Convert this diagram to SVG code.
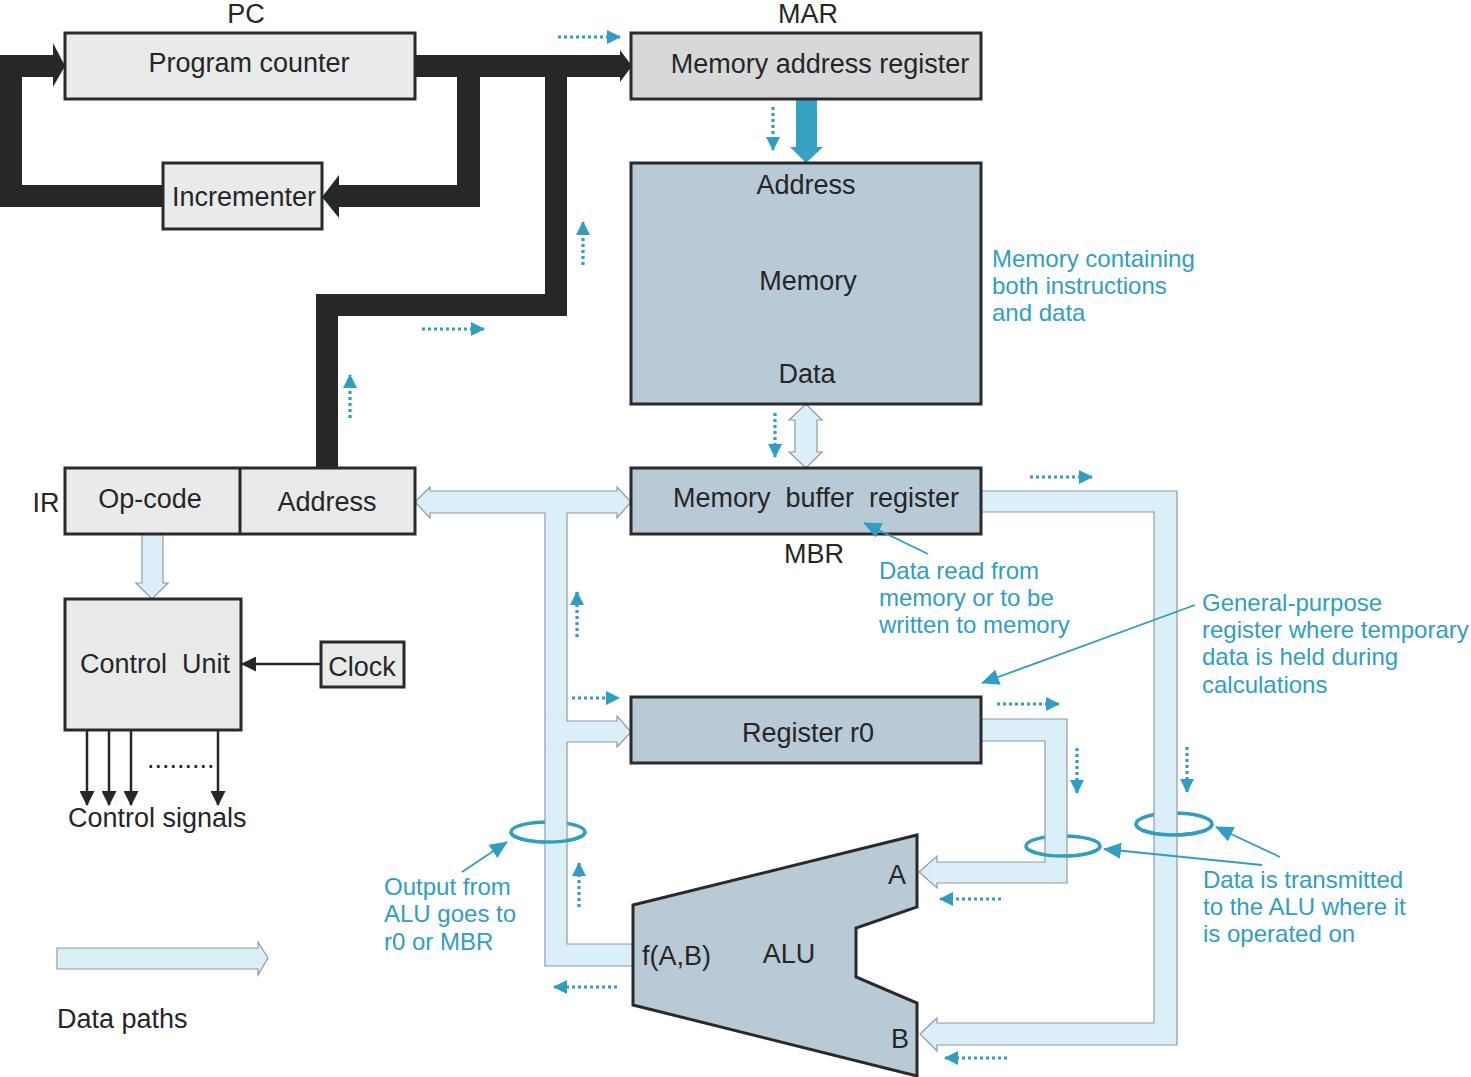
<svg xmlns="http://www.w3.org/2000/svg" width="1471" height="1077" viewBox="0 0 1471 1077">
<defs>
<style>
text{font-family:"Liberation Sans",Arial,sans-serif;}
.lbl{font-size:27px;fill:#262626;}
.c{text-anchor:middle;}
.note{font-size:24px;fill:#2f9ec4;}
.box{stroke:#2a2a2a;stroke-width:3;}
.lt{fill:#e9ebea;}
.mar{fill:#d7d9d9;}
.bg{fill:#b8cad6;}
.bus{fill:#262729;}
.path{fill:#dbeff9;stroke:#8e9aa2;stroke-width:1.2;stroke-linejoin:miter;}
.dot{stroke:#2f9ec4;stroke-width:3.2;stroke-dasharray:3 3;fill:none;marker-end:url(#dtip);}
.ann{stroke:#2f9ec4;stroke-width:1.8;fill:none;marker-end:url(#atip);}
.ring{stroke:#2f9ec4;stroke-width:3.5;fill:none;}
.sig{stroke:#262626;stroke-width:2.5;fill:none;marker-end:url(#btip);}
</style>
<marker id="dtip" markerUnits="userSpaceOnUse" markerWidth="14" markerHeight="14" refX="13" refY="7" orient="auto"><path d="M0,0 L14,7 L0,14 Z" fill="#2f9ec4"/></marker>
<marker id="atip" markerUnits="userSpaceOnUse" markerWidth="18" markerHeight="16" refX="17" refY="8" orient="auto"><path d="M0,0 L18,8 L0,16 Z" fill="#2f9ec4"/></marker>
<marker id="btip" markerUnits="userSpaceOnUse" markerWidth="15" markerHeight="15" refX="14" refY="7.5" orient="auto"><path d="M0,0 L15,7.5 L0,15 Z" fill="#262626"/></marker>
</defs>
<rect width="1471" height="1077" fill="#ffffff"/>

<g id="connectors">
  <g id="black-bus">
    <rect class="bus" x="0" y="185" width="163" height="22"/>
    <rect class="bus" x="0" y="55" width="22" height="152"/>
    <rect class="bus" x="0" y="55" width="54" height="22"/>
    <polygon class="bus" points="53,43 65,66 53,87"/>
    <rect class="bus" x="415" y="55" width="206" height="22"/>
    <polygon class="bus" points="620,50 632,66 620,82"/>
    <rect class="bus" x="457" y="55" width="23" height="152"/>
    <rect class="bus" x="338" y="185" width="142" height="22"/>
    <polygon class="bus" points="339,175 322,197 339,218"/>
    <rect class="bus" x="545" y="55" width="22" height="261"/>
    <rect class="bus" x="316" y="294" width="251" height="22"/>
    <rect class="bus" x="316" y="294" width="22" height="174"/>
  </g>
  <polygon fill="#35a2c4" points="796,99 817,99 817,147 823,147 806,163 790,147 796,147"/>
  <ellipse class="ring" cx="548" cy="832" rx="37" ry="10"/>
  <ellipse class="ring" cx="1063" cy="846" rx="37" ry="10"/>
  <ellipse class="ring" cx="1174" cy="824" rx="38" ry="11"/>
  <polygon class="path" points="415,502 430,487 430,491 617,491 617,487 631,502 617,518 617,513 567,513 567,721 617,721 617,716 631,732 617,747 617,742 567,742 567,944 633,944 633,966 545,966 545,513 430,513 430,518"/>
  <polygon class="path" points="981,719 1067,719 1067,883 937,883 937,888 919,872 937,856 937,862 1045,862 1045,741 981,741"/>
  <polygon class="path" points="981,491 1177,491 1177,1045 937,1045 937,1051 920,1034 937,1018 937,1023 1154,1023 1154,512 981,512"/>
  <polygon class="path" points="806,404 822,420 817,420 817,452 822,452 806,468 789,452 795,452 795,420 789,420"/>
  <polygon class="path" points="142,534 163,534 163,583 168,583 152,599 136,583 142,583"/>
  <path class="ring" d="M511,832 A37,10 0 0 0 585,832"/>
  <path class="ring" d="M1026,846 A37,10 0 0 0 1100,846"/>
  <path class="ring" d="M1136,824 A38,11 0 0 0 1212,824"/>
  <g id="flow-arrows">
    <line class="dot" x1="558" y1="37" x2="620" y2="37"/>
    <line class="dot" x1="773" y1="107" x2="773" y2="150"/>
    <line class="dot" x1="583" y1="265" x2="583" y2="222"/>
    <line class="dot" x1="422" y1="329" x2="484" y2="329"/>
    <line class="dot" x1="350" y1="418" x2="350" y2="375"/>
    <line class="dot" x1="775" y1="413" x2="775" y2="457"/>
    <line class="dot" x1="577" y1="637" x2="577" y2="592"/>
    <line class="dot" x1="572" y1="698" x2="619" y2="698"/>
    <line class="dot" x1="1030" y1="477" x2="1092" y2="477"/>
    <line class="dot" x1="997" y1="704" x2="1059" y2="704"/>
    <line class="dot" x1="1077" y1="748" x2="1077" y2="793"/>
    <line class="dot" x1="1187" y1="747" x2="1187" y2="792"/>
    <line class="dot" x1="579" y1="907" x2="579" y2="863"/>
    <line class="dot" x1="1001" y1="899" x2="940" y2="899"/>
    <line class="dot" x1="617" y1="987" x2="554" y2="987"/>
    <line class="dot" x1="1007" y1="1058" x2="945" y2="1058"/>
  </g>
  <line class="sig" x1="321" y1="664" x2="242" y2="664"/>
  <line class="sig" x1="87" y1="730" x2="87" y2="805"/>
  <line class="sig" x1="109" y1="730" x2="109" y2="805"/>
  <line class="sig" x1="131" y1="730" x2="131" y2="805"/>
  <line class="sig" x1="218" y1="730" x2="218" y2="805"/>
</g>

<g id="pc">
  <rect class="box lt" x="65" y="33" width="350" height="66"/>
  <text class="lbl c" x="249" y="72">Program counter</text>
  <text class="lbl c" x="246" y="23">PC</text>
</g>
<g id="mar">
  <rect class="box mar" x="631" y="33" width="350" height="66"/>
  <text class="lbl c" x="820" y="73">Memory address register</text>
  <text class="lbl c" x="808" y="23">MAR</text>
</g>
<g id="incrementer">
  <rect class="box lt" x="163" y="163" width="159" height="66"/>
  <text class="lbl c" x="244" y="206">Incrementer</text>
</g>
<g id="memory">
  <rect class="box bg" x="631" y="163" width="350" height="241"/>
  <text class="lbl c" x="806" y="194">Address</text>
  <text class="lbl c" x="808" y="290">Memory</text>
  <text class="lbl c" x="807" y="383">Data</text>
</g>
<g id="ir">
  <rect class="box lt" x="65" y="468" width="350" height="66"/>
  <line class="box" x1="240" y1="468" x2="240" y2="534"/>
  <text class="lbl c" x="150" y="508">Op-code</text>
  <text class="lbl c" x="327" y="511">Address</text>
  <text class="lbl c" x="46" y="512">IR</text>
</g>
<g id="mbr">
  <rect class="box bg" x="631" y="468" width="350" height="66"/>
  <text class="lbl c" x="816" y="507" xml:space="preserve">Memory  buffer  register</text>
  <text class="lbl c" x="814" y="563">MBR</text>
</g>
<g id="register-r0">
  <rect class="box bg" x="631" y="697" width="350" height="66"/>
  <text class="lbl c" x="808" y="742">Register r0</text>
</g>
<g id="control-unit">
  <rect class="box lt" x="65" y="599" width="176" height="131"/>
  <text class="lbl c" x="155" y="673" xml:space="preserve">Control  Unit</text>
  <text class="lbl" x="147" y="768">.........</text>
  <text class="lbl" x="68" y="827">Control signals</text>
</g>
<g id="clock">
  <rect class="box lt" x="321" y="642" width="83" height="45"/>
  <text class="lbl c" x="362" y="676">Clock</text>
</g>
<g id="alu">
  <polygon class="box bg" points="633,905 917,835 917,907 856,928 856,977 917,1003 917,1076 633,1005"/>
  <text class="lbl c" x="897" y="884">A</text>
  <text class="lbl c" x="900" y="1048">B</text>
  <text class="lbl c" x="789" y="963">ALU</text>
  <text class="lbl" x="642" y="965">f(A,B)</text>
</g>
<g id="legend">
  <polygon class="path" points="57,948 258,948 258,942 268,958 258,975 258,969 57,969"/>
  <text class="lbl" x="57" y="1028">Data paths</text>
</g>
<g id="pointers">
  <line class="ann" x1="928" y1="554" x2="864" y2="523"/>
  <line class="ann" x1="1195" y1="605" x2="982" y2="683"/>
  <line class="ann" x1="1262" y1="865" x2="1104" y2="849"/>
  <line class="ann" x1="1280" y1="857" x2="1216" y2="827"/>
  <line class="ann" x1="462" y1="872" x2="507" y2="842"/>
</g>
<g id="annotations">
  <text class="note" x="992" y="267">Memory containing</text>
  <text class="note" x="992" y="294">both instructions</text>
  <text class="note" x="992" y="321">and data</text>
  <text class="note" x="879" y="579">Data read from</text>
  <text class="note" x="879" y="606">memory or to be</text>
  <text class="note" x="879" y="633">written to memory</text>
  <text class="note" x="1202" y="611">General-purpose</text>
  <text class="note" x="1202" y="638">register where temporary</text>
  <text class="note" x="1202" y="665">data is held during</text>
  <text class="note" x="1202" y="693">calculations</text>
  <text class="note" x="1203" y="888">Data is transmitted</text>
  <text class="note" x="1203" y="915">to the ALU where it</text>
  <text class="note" x="1203" y="942">is operated on</text>
  <text class="note" x="384" y="895">Output from</text>
  <text class="note" x="384" y="922">ALU goes to</text>
  <text class="note" x="384" y="950">r0 or MBR</text>
</g>
</svg>
